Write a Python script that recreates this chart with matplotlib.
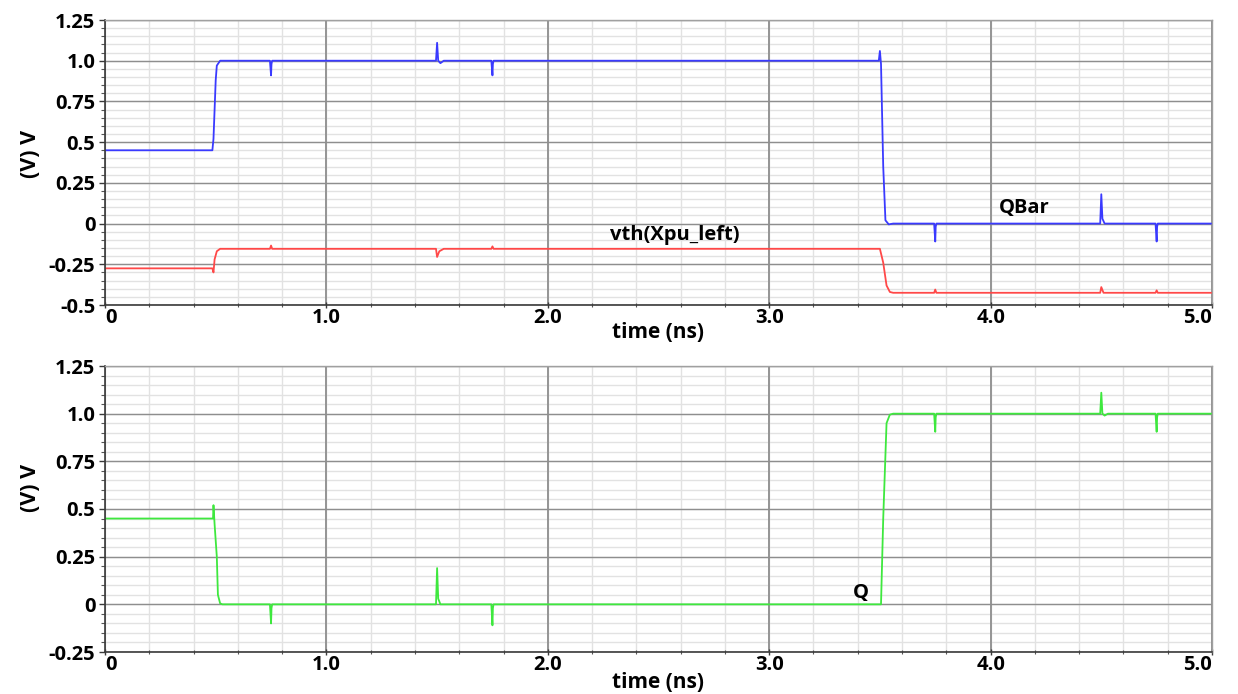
import matplotlib
matplotlib.use("Agg")
import matplotlib.pyplot as plt
from matplotlib.ticker import MultipleLocator, FixedLocator, FixedFormatter

# Transient simulation waveforms (time in ns, voltage in V)
qbar_t = [0.0, 0.485, 0.49, 0.50, 0.505, 0.52, 0.53,
          0.745, 0.75, 0.752, 0.755,
          1.495, 1.50, 1.505, 1.515, 1.53,
          1.745, 1.75, 1.752, 1.755,
          3.495, 3.50, 3.505, 3.515, 3.525, 3.54, 3.56,
          3.745, 3.75, 3.752, 3.755,
          4.495, 4.50, 4.505, 4.515, 4.53,
          4.745, 4.75, 4.752, 4.755, 5.0]
qbar_v = [0.45, 0.45, 0.52, 0.88, 0.97, 1.0, 1.0,
          1.0, 0.91, 0.98, 1.0,
          1.0, 1.11, 1.0, 0.985, 1.0,
          1.0, 0.91, 0.98, 1.0,
          1.0, 1.06, 0.98, 0.35, 0.02, -0.005, 0.0,
          0.0, -0.11, -0.02, 0.0,
          0.0, 0.18, 0.03, 0.0, 0.0,
          0.0, -0.11, -0.02, 0.0, 0.0]

vth_t = [0.0, 0.485, 0.49, 0.495, 0.505, 0.52, 0.535,
         0.745, 0.75, 0.755,
         1.495, 1.50, 1.51, 1.53,
         1.745, 1.75, 1.755,
         3.50, 3.515, 3.53, 3.545, 3.56,
         3.745, 3.75, 3.755,
         4.495, 4.50, 4.51,
         4.745, 4.75, 4.755, 5.0]
vth_v = [-0.275, -0.275, -0.30, -0.22, -0.17, -0.155, -0.155,
         -0.155, -0.135, -0.155,
         -0.155, -0.205, -0.17, -0.155,
         -0.155, -0.14, -0.155,
         -0.155, -0.24, -0.38, -0.42, -0.425,
         -0.425, -0.405, -0.425,
         -0.425, -0.39, -0.425,
         -0.425, -0.41, -0.425, -0.425]

q_t = [0.0, 0.488, 0.49, 0.495, 0.505, 0.51, 0.52, 0.53,
       0.745, 0.75, 0.752, 0.755,
       1.495, 1.50, 1.505, 1.515, 1.53,
       1.745, 1.75, 1.752, 1.755,
       3.505, 3.515, 3.53, 3.545, 3.56,
       3.745, 3.75, 3.752, 3.755,
       4.495, 4.50, 4.505, 4.515, 4.53,
       4.745, 4.75, 4.752, 4.755, 5.0]
q_v = [0.45, 0.45, 0.52, 0.42, 0.25, 0.05, 0.005, 0.0,
       0.0, -0.10, -0.02, 0.0,
       0.0, 0.19, 0.03, 0.0, 0.0,
       0.0, -0.11, -0.02, 0.0,
       0.0, 0.45, 0.95, 0.995, 1.0,
       1.0, 0.905, 0.98, 1.0,
       1.0, 1.11, 1.0, 0.99, 1.0,
       1.0, 0.905, 0.98, 1.0, 1.0]

x_ticks = [0, 1, 2, 3, 4, 5]
x_labels = ["0", "1.0", "2.0", "3.0", "4.0", "5.0"]
top_yticks = [-0.5, -0.25, 0, 0.25, 0.5, 0.75, 1.0, 1.25]
top_ylabels = ["-0.5", "-0.25", "0", "0.25", "0.5", "0.75", "1.0", "1.25"]
bot_yticks = [-0.25, 0, 0.25, 0.5, 0.75, 1.0, 1.25]
bot_ylabels = ["-0.25", "0", "0.25", "0.5", "0.75", "1.0", "1.25"]

FONT = "Open Sans"
FS = 14.5
plt.rcParams["font.family"] = [FONT, "DejaVu Sans"]

W, H = 1238, 694
fig = plt.figure(figsize=(W / 100, H / 100), dpi=100)


def make_panel(rect, ylim, yticks, ylabels, ylabel_y, xlabel_y):
    # background axes carrying only the fine grid
    bg = fig.add_axes(rect, zorder=0)
    bg.set_xlim(0, 5.0)
    bg.set_ylim(*ylim)
    bg.xaxis.set_major_locator(MultipleLocator(0.2))
    bg.yaxis.set_major_locator(MultipleLocator(0.05))
    bg.grid(True, color="#e2e2e2", linewidth=1.0)
    bg.tick_params(left=False, bottom=False, labelleft=False, labelbottom=False)
    for s in bg.spines.values():
        s.set_visible(False)

    ax = fig.add_axes(rect, zorder=1)
    ax.patch.set_alpha(0)
    ax.set_xlim(0, 5.0)
    ax.set_ylim(*ylim)
    ax.xaxis.set_major_locator(FixedLocator(x_ticks))
    ax.xaxis.set_major_formatter(FixedFormatter(x_labels))
    ax.xaxis.set_minor_locator(MultipleLocator(0.2))
    ax.yaxis.set_major_locator(FixedLocator(yticks))
    ax.yaxis.set_major_formatter(FixedFormatter(ylabels))
    ax.yaxis.set_minor_locator(MultipleLocator(0.05))
    ax.grid(which="major", axis="y", color="#8e8e8e", linewidth=1.0)
    ax.grid(which="major", axis="x", color="#949494", linewidth=1.4)
    ax.set_axisbelow(True)
    for s in ("top", "right"):
        ax.spines[s].set_color("#a0a0a0")
        ax.spines[s].set_linewidth(1.0)
    for s in ("left", "bottom"):
        ax.spines[s].set_color("#3a3a3a")
        ax.spines[s].set_linewidth(1.2)
    ax.tick_params(axis="both", which="major", length=4, width=1, color="#3a3a3a",
                   labelsize=FS, pad=3)
    ax.tick_params(axis="both", which="minor", length=3, width=0.8, color="#555555")
    ax.tick_params(axis="x", which="both", direction="inout")
    ax.tick_params(axis="x", which="major", pad=0)
    for lab in ax.get_xticklabels() + ax.get_yticklabels():
        lab.set_fontweight("bold")
    xl = ax.get_xticklabels()
    xl[0].set_horizontalalignment("left")
    xl[-1].set_horizontalalignment("right")
    ax.set_xlabel("time (ns)", fontsize=FS + 0.5, fontweight="bold", va="center")
    ax.xaxis.set_label_coords(0.5, xlabel_y)
    ax.set_ylabel("(V) V", fontsize=FS + 1, fontweight="bold", va="center")
    ax.yaxis.set_label_coords(-0.0675, ylabel_y)
    return ax


ax1 = make_panel([105 / W, 1 - 305 / H, 1107 / W, 285 / H], (-0.5, 1.25),
                 top_yticks, top_ylabels, 0.53, -0.095)
ax2 = make_panel([105 / W, 1 - 652 / H, 1107 / W, 286 / H], (-0.25, 1.25),
                 bot_yticks, bot_ylabels, 0.573, -0.108)

ax1.plot(qbar_t, qbar_v, color="#3a3aff", linewidth=1.3)
ax1.plot(vth_t, vth_v, color="#ff4848", linewidth=1.3)
ax2.plot(q_t, q_v, color="#3ee83e", linewidth=1.3)

ax1.text(4.15, 0.065, "QBar", fontsize=FS, fontweight="bold", ha="center", va="baseline")
ax1.text(2.575, -0.10, "vth(Xpu_left)", fontsize=FS, fontweight="bold", ha="center", va="baseline")
ax2.text(3.415, 0.033, "Q", fontsize=FS, fontweight="bold", ha="center", va="baseline")

fig.savefig("out.png", dpi=100)
